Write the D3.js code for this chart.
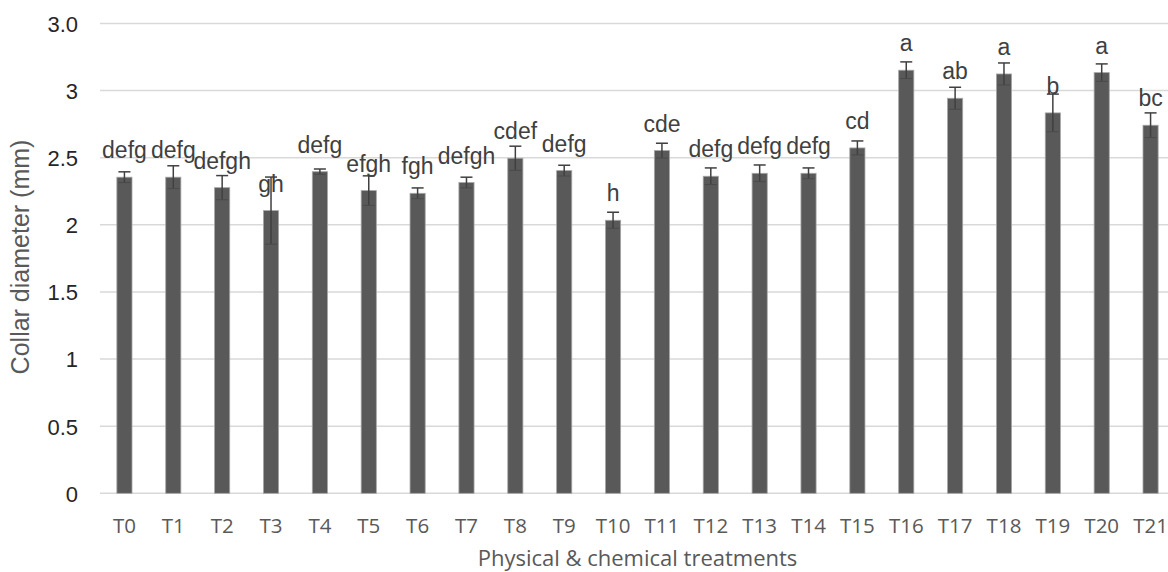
<!DOCTYPE html>
<html>
<head>
<meta charset="utf-8">
<script src="https://cdn.jsdelivr.net/npm/d3@7"></script>
<style>
  html, body { margin: 0; padding: 0; background: #fff; }
  svg { display: block; }
</style>
</head>
<body>
<svg id="chart" width="1168" height="572"></svg>
<script>
// Treatments on the x axis
const treatments = ["T0","T1","T2","T3","T4","T5","T6","T7","T8","T9","T10",
  "T11","T12","T13","T14","T15","T16","T17","T18","T19","T20","T21"];
// Mean collar diameter (mm)
const means = [2.355, 2.355, 2.277, 2.106, 2.396, 2.255, 2.235, 2.315, 2.496, 2.404, 2.034,
  2.553, 2.362, 2.384, 2.384, 2.573, 3.152, 2.943, 3.124, 2.834, 3.134, 2.742];
// Standard error of each mean
const errors = [0.04, 0.085, 0.09, 0.25, 0.02, 0.11, 0.04, 0.04, 0.09, 0.04, 0.06,
  0.055, 0.062, 0.062, 0.04, 0.052, 0.062, 0.082, 0.082, 0.14, 0.065, 0.092];
// Significance groups
const groups = ["defg","defg","defgh","gh","defg","efgh","fgh","defgh","cdef","defg","h",
  "cde","defg","defg","defg","cd","a","ab","a","b","a","bc"];
// Y axis ticks and their labels
const yTicks = [0, 0.5, 1, 1.5, 2, 2.5, 3, 3.5];
const yTickLabels = ["0", "0.5", "1", "1.5", "2", "2.5", "3", "3.0"];

const svg = d3.select("#chart");
const plotLeft = 100, plotRight = 1175, plotTop = 23.5, plotBottom = 493.3;

const x = d3.scaleBand().domain(treatments).range([plotLeft, plotRight])
  .paddingInner(0.69).paddingOuter(0.345);
const y = d3.scaleLinear().domain([0, 3.5]).range([plotBottom, plotTop]);

// Horizontal gridlines
svg.append("g")
  .selectAll("line")
  .data(yTicks)
  .join("line")
  .attr("x1", plotLeft).attr("x2", plotRight)
  .attr("y1", d => y(d)).attr("y2", d => y(d))
  .attr("stroke", "#d9d9d9").attr("stroke-width", 1.5);

// Y tick labels
const yAxis = d3.axisLeft(y).tickValues(yTicks)
  .tickFormat((d, i) => yTickLabels[i]).tickSize(0).tickPadding(0);
const gy = svg.append("g").attr("transform", "translate(78,0)").call(yAxis);
gy.select(".domain").remove();
gy.selectAll("text")
  .attr("font-family", "'Liberation Sans', Arial, sans-serif")
  .attr("font-size", 22).attr("fill", "#262626").attr("dy", "0.36em");

// X tick labels
const xAxis = d3.axisBottom(x).tickSize(0).tickPadding(0);
const gx = svg.append("g").attr("transform", `translate(0,${plotBottom})`).call(xAxis);
gx.select(".domain").remove();
gx.selectAll("text")
  .attr("font-family", "'Open Sans', sans-serif")
  .attr("font-size", 20.5).attr("fill", "#595959")
  .attr("dy", 0).attr("y", 39.5);

// Bars
svg.append("g")
  .selectAll("rect")
  .data(treatments)
  .join("rect")
  .attr("x", d => x(d))
  .attr("width", x.bandwidth())
  .attr("y", (d, i) => y(means[i]))
  .attr("height", (d, i) => y(0) - y(means[i]))
  .attr("fill", "#595959")
  .attr("stroke", "#a6a6a6").attr("stroke-width", 0.8);

// Error bars
const eb = svg.append("g").attr("stroke", "#404040").attr("stroke-width", 1.5);
treatments.forEach((t, i) => {
  const cx = x(t) + x.bandwidth() / 2;
  eb.append("line").attr("x1", cx).attr("x2", cx)
    .attr("y1", y(means[i] - errors[i])).attr("y2", y(means[i] + errors[i]));
  eb.append("line").attr("x1", cx - 6).attr("x2", cx + 6)
    .attr("y1", y(means[i] + errors[i])).attr("y2", y(means[i] + errors[i]));
  eb.append("line").attr("x1", cx - 6).attr("x2", cx + 6)
    .attr("y1", y(means[i] - errors[i])).attr("y2", y(means[i] - errors[i]))
    .attr("stroke", "#4a4a4a").attr("stroke-width", 1);
});

// Group letters above bars
svg.append("g")
  .selectAll("text")
  .data(treatments)
  .join("text")
  .attr("x", d => x(d) + x.bandwidth() / 2)
  .attr("y", (d, i) => y(means[i]) - 19)
  .attr("text-anchor", "middle")
  .attr("font-family", "'Liberation Sans', Arial, sans-serif")
  .attr("font-size", 23).attr("fill", "#404040")
  .text((d, i) => groups[i]);

// Axis titles
svg.append("text")
  .attr("transform", `translate(29,${257}) rotate(-90)`)
  .attr("text-anchor", "middle")
  .attr("font-family", "'Liberation Sans', Arial, sans-serif")
  .attr("font-size", 25).attr("fill", "#595959")
  .text("Collar diameter (mm)");

svg.append("text")
  .attr("x", (plotLeft + plotRight) / 2).attr("y", 566)
  .attr("text-anchor", "middle")
  .attr("font-family", "'Open Sans', sans-serif")
  .attr("font-size", 22).attr("fill", "#595959")
  .text("Physical & chemical treatments");
</script>
</body>
</html>
